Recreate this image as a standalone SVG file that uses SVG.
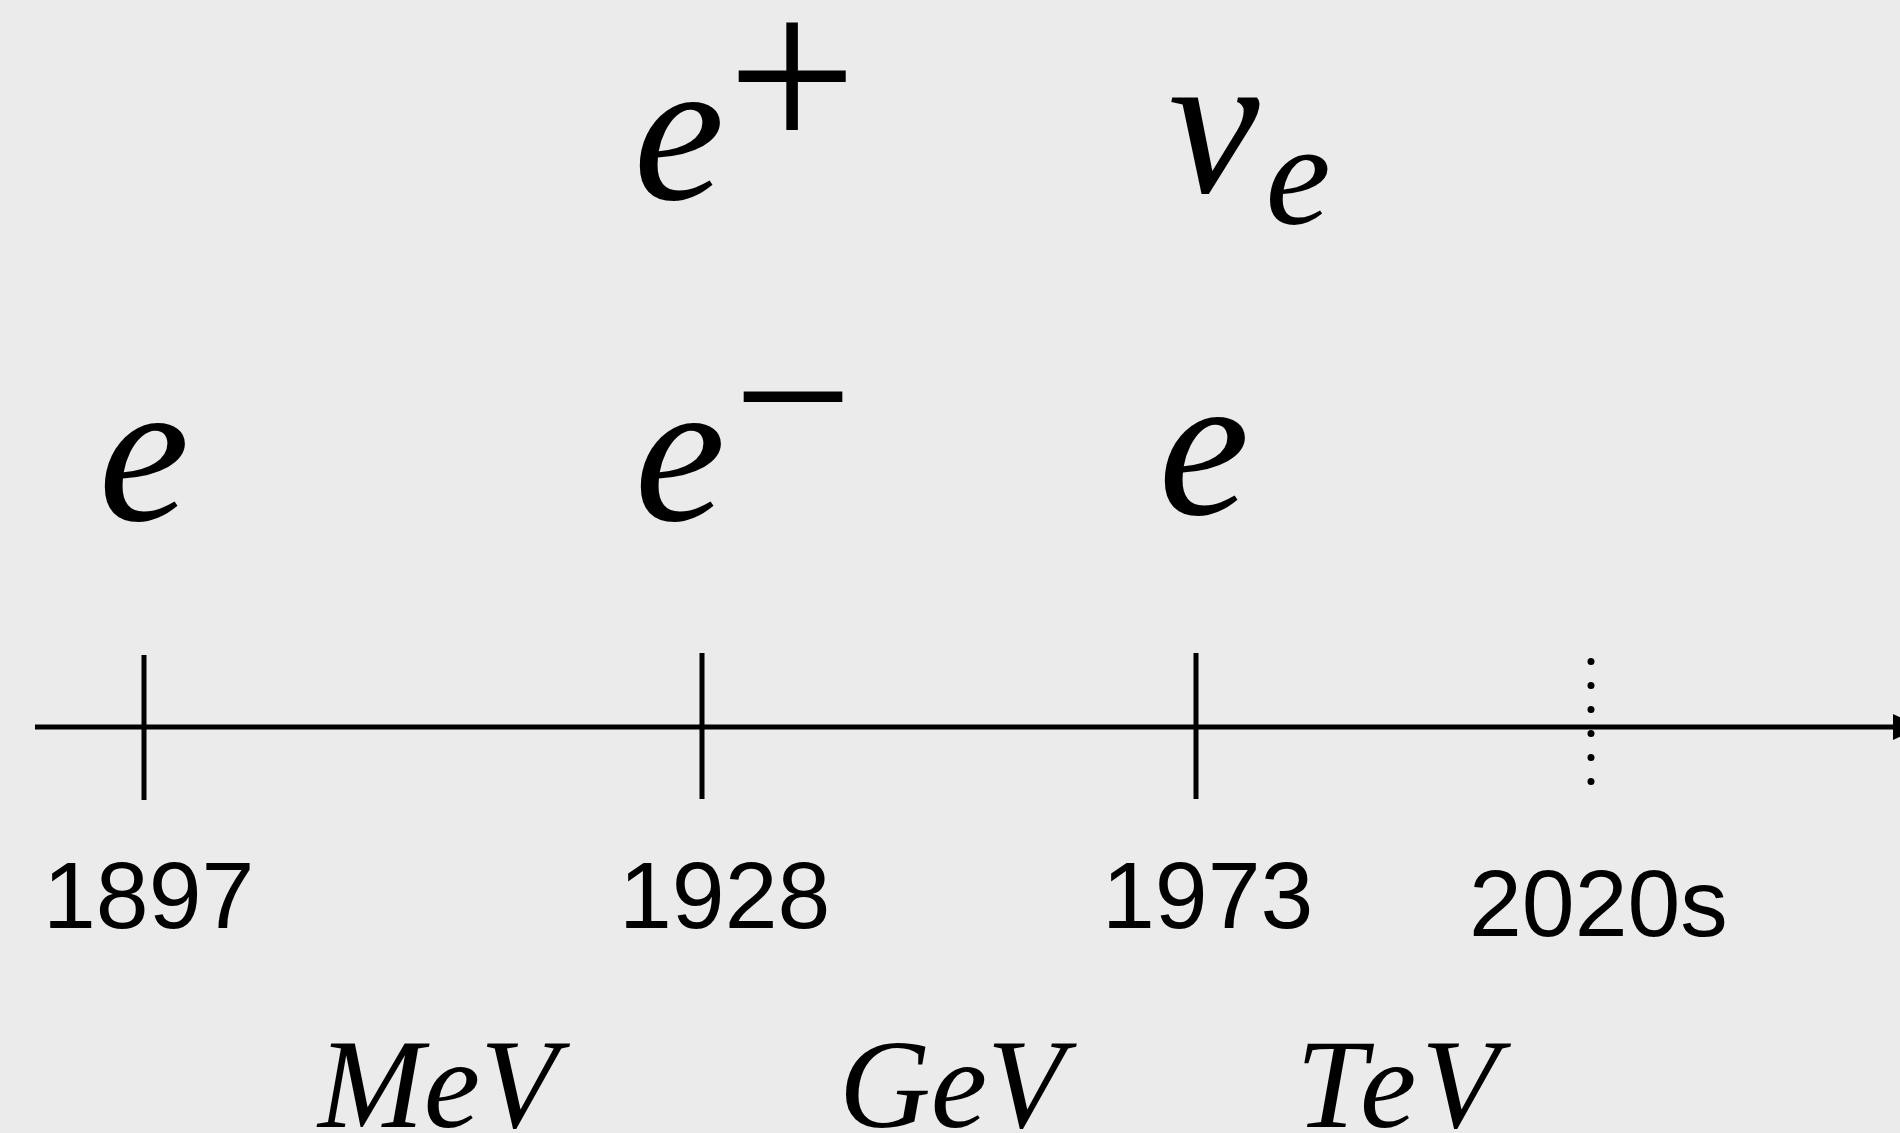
<svg xmlns="http://www.w3.org/2000/svg" width="1900" height="1133" viewBox="0 0 1900 1133">
  <defs>
    <marker id="arrow" markerUnits="userSpaceOnUse" markerWidth="30" markerHeight="30" refX="0" refY="13" orient="auto">
      <polygon points="0,0 27,13 0,26" fill="#000"/>
    </marker>
    <style>
      .math { font-family: "Liberation Serif", "Times New Roman", serif; font-style: italic; fill: #000; }
      .op { font-family: "Liberation Serif", "Times New Roman", serif; font-style: normal; fill: #000; }
      .year { font-family: "Liberation Sans", Arial, Helvetica, sans-serif; font-size: 95px; fill: #000; }
      .energy { font-family: "Liberation Serif", "Times New Roman", serif; font-style: italic; font-size: 127px; fill: #000; }
      .axis { stroke: #000; stroke-width: 5; fill: none; }
      .tick { stroke: #000; stroke-width: 5; fill: none; }
    </style>
  </defs>
  <rect x="0" y="0" width="1900" height="1133" fill="#ebebeb"/>

  <g id="connectors">
    <line class="axis" x1="35" y1="727" x2="1893" y2="727" marker-end="url(#arrow)"/>
    <line class="tick" x1="144" y1="655" x2="144" y2="800"/>
    <line class="tick" x1="702" y1="653" x2="702" y2="799"/>
    <line class="tick" x1="1196" y1="653" x2="1196" y2="799"/>
    <line x1="1591" y1="661.5" x2="1591" y2="782" stroke="#000" stroke-width="7" stroke-linecap="round" stroke-dasharray="0 24"/>
  </g>

  <g id="node-e-1897">
    <text class="math" x="144" y="520" font-size="205" text-anchor="middle">e</text>
  </g>
  <g id="node-e-minus">
    <text class="math" x="680" y="520" font-size="205" text-anchor="middle">e</text>
    <text class="op" x="793" y="467" font-size="212" text-anchor="middle">−</text>
  </g>
  <g id="node-e-plus">
    <text class="math" x="679" y="199" font-size="205" text-anchor="middle">e</text>
    <text class="op" x="792" y="153" font-size="230" text-anchor="middle">+</text>
  </g>
  <g id="node-e-1973">
    <text class="math" x="1204" y="514" font-size="205" text-anchor="middle">e</text>
  </g>
  <g id="node-nu-e">
    <text class="math" x="1214" y="192" font-size="205" text-anchor="middle">ν</text>
    <text class="math" x="1298" y="224" font-size="147" text-anchor="middle">e</text>
  </g>

  <g id="label-1897"><text class="year" x="43" y="928">1897</text></g>
  <g id="label-1928"><text class="year" x="619" y="928">1928</text></g>
  <g id="label-1973"><text class="year" x="1102" y="928">1973</text></g>
  <g id="label-2020s"><text class="year" x="1469" y="936">2020s</text></g>

  <g id="label-MeV"><text class="energy" x="318" y="1127">MeV</text></g>
  <g id="label-GeV"><text class="energy" x="839" y="1127">GeV</text></g>
  <g id="label-TeV"><text class="energy" x="1296" y="1127" letter-spacing="5">TeV</text></g>
</svg>
